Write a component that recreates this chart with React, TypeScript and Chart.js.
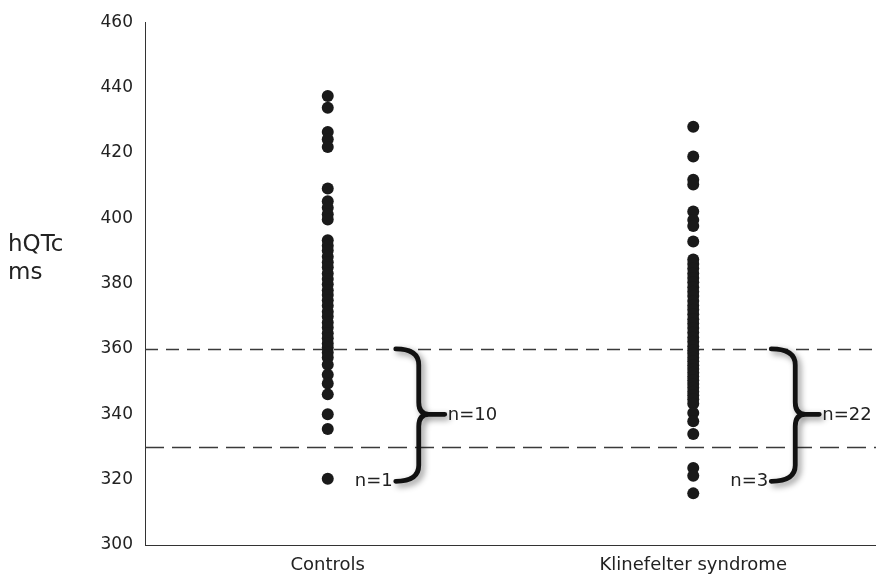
import React, { useEffect, useRef } from 'react';
import { Chart, registerables } from 'chart.js';

Chart.register(...registerables);

const CATEGORIES = ['Controls', 'Klinefelter syndrome'];

const CONTROLS_VALUES = [
  437.4, 433.8, 426.4, 424.2, 421.8, 409.1, 405.2, 403.2, 401.2, 399.6,
  393.3, 391.6, 390.1, 388.2, 386.5, 385.0, 383.1, 381.4, 379.8, 378.0,
  376.5, 374.9, 373.2, 371.4, 369.9, 368.1, 366.6, 364.8, 363.3, 361.7,
  360.4, 358.9, 357.4, 355.2, 352.1, 349.4, 346.1, 340.0, 335.5, 320.3,
];

const KLINEFELTER_VALUES = [
  428.0, 418.9, 411.8, 410.3, 402.1, 399.5, 397.6, 392.9, 387.4, 386.0,
  384.6, 383.1, 381.7, 380.4, 378.9, 377.5, 376.2, 374.7, 373.3, 372.0,
  370.6, 369.1, 367.8, 366.4, 365.0, 363.5, 362.2, 360.8, 359.6, 358.5,
  357.3, 356.2, 355.0, 353.9, 352.7, 351.6, 350.4, 349.3, 348.1, 346.9,
  345.8, 344.6, 343.2, 340.4, 337.9, 334.0, 323.6, 321.2, 315.8,
];

const Y_MIN = 300;
const Y_MAX = 460;
const Y_STEP = 20;

const THRESHOLDS = [360, 330];

// brace values per category: [top, middle, bottom]
const BRACE_TOP = [360, 360];
const BRACE_MID = [340, 340];
const BRACE_BOTTOM = [319.5, 319.5];
const BRACE_UPPER_LABELS = ['n=10', 'n=22'];
const BRACE_LOWER_LABELS = ['n=1', 'n=3'];

const Y_TITLE_LINES = ['hQTc', 'ms'];

const FONT = '"DejaVu Sans", "Liberation Sans", Arial, sans-serif';

// style / layout (pixel offsets relative to category centre)
const BRACE_LAYOUT = [
  { tip: 68, spine: 91, cusp: 117 },
  { tip: 78, spine: 102, cusp: 126 },
];
const DASH_PATTERNS = [[13, 8], [19, 8]];

const annotationPlugin = {
  id: 'qtcAnnotations',
  beforeDatasetsDraw(chart: any) {
    const { ctx, chartArea, scales } = chart;
    const y = scales.y;
    ctx.save();
    ctx.strokeStyle = '#3a3a3a';
    ctx.lineWidth = 1.5;
    THRESHOLDS.forEach((t, i) => {
      const py = Math.round(y.getPixelForValue(t)) + 0.5;
      ctx.setLineDash(DASH_PATTERNS[i] || [12, 8]);
      ctx.beginPath();
      ctx.moveTo(chartArea.left, py);
      ctx.lineTo(chartArea.right, py);
      ctx.stroke();
    });
    ctx.restore();
  },
  afterDatasetsDraw(chart: any) {
    const { ctx, chartArea, scales } = chart;
    const x = scales.x;
    const y = scales.y;
    CATEGORIES.forEach((cat, i) => {
      const cx = x.getPixelForValue(i);
      const L = BRACE_LAYOUT[i];
      const xt = cx + L.tip;
      const xs = cx + L.spine;
      const xc = cx + L.cusp;
      const yTop = y.getPixelForValue(BRACE_TOP[i]);
      const yMid = y.getPixelForValue(BRACE_MID[i]);
      const yBot = y.getPixelForValue(BRACE_BOTTOM[i]);
      ctx.save();
      ctx.strokeStyle = '#111';
      ctx.lineWidth = 4.8;
      ctx.lineCap = 'round';
      ctx.lineJoin = 'round';
      ctx.shadowColor = 'rgba(0,0,0,0.45)';
      ctx.shadowBlur = 6;
      ctx.shadowOffsetX = 3;
      ctx.shadowOffsetY = 3;
      ctx.beginPath();
      ctx.moveTo(xt, yTop);
      ctx.quadraticCurveTo(xs, yTop, xs, yTop + 16);
      ctx.lineTo(xs, yMid - 12);
      ctx.quadraticCurveTo(xs, yMid, xs + 10, yMid);
      ctx.lineTo(xc, yMid);
      ctx.moveTo(xs + 10, yMid);
      ctx.quadraticCurveTo(xs, yMid, xs, yMid + 12);
      ctx.lineTo(xs, yBot - 16);
      ctx.quadraticCurveTo(xs, yBot, xt, yBot);
      ctx.stroke();
      ctx.restore();

      ctx.save();
      ctx.fillStyle = '#222';
      ctx.font = `18px ${FONT}`;
      ctx.textBaseline = 'middle';
      ctx.textAlign = 'left';
      ctx.fillText(BRACE_UPPER_LABELS[i], xc + 3, yMid + 1);
      ctx.textAlign = 'right';
      ctx.fillText(BRACE_LOWER_LABELS[i], xt - 3, yBot);
      ctx.restore();
    });

    ctx.save();
    ctx.fillStyle = '#222';
    ctx.font = `23px ${FONT}`;
    ctx.textAlign = 'left';
    ctx.textBaseline = 'middle';
    ctx.fillText(Y_TITLE_LINES[0], 8, chartArea.top + 223);
    ctx.fillText(Y_TITLE_LINES[1], 8, chartArea.top + 251);
    ctx.restore();
  },
};

export default function App() {
  const canvasRef = useRef<HTMLCanvasElement | null>(null);

  useEffect(() => {
    document.body.style.margin = '0';
    document.body.style.overflow = 'hidden';
    const canvas = canvasRef.current;
    if (!canvas) return;
    const chart = new Chart(canvas, {
      type: 'scatter',
      data: {
        labels: CATEGORIES,
        datasets: [
          {
            label: CATEGORIES[0],
            data: CONTROLS_VALUES.map((v) => ({ x: CATEGORIES[0], y: v })) as any,
            backgroundColor: '#1a1a1a',
            borderColor: '#1a1a1a',
            pointRadius: 6,
            borderWidth: 0,
          },
          {
            label: CATEGORIES[1],
            data: KLINEFELTER_VALUES.map((v) => ({ x: CATEGORIES[1], y: v })) as any,
            backgroundColor: '#1a1a1a',
            borderColor: '#1a1a1a',
            pointRadius: 6,
            borderWidth: 0,
          },
        ],
      },
      options: {
        responsive: false,
        animation: false,
        devicePixelRatio: 1,
        layout: { autoPadding: false, padding: { top: 19, right: 0, bottom: 0, left: 0 } },
        plugins: {
          legend: { display: false },
          tooltip: { enabled: false },
        },
        scales: {
          x: {
            type: 'category',
            labels: CATEGORIES,
            offset: true,
            grid: { display: true, color: 'rgba(0,0,0,0)', drawTicks: false },
            border: { display: true, color: '#333', width: 1 },
            ticks: {
              color: '#222',
              font: { family: FONT, size: 18 },
              padding: 10,
            },
            afterFit: (scale: any) => {
              scale.height = 32;
            },
          },
          y: {
            type: 'linear',
            min: Y_MIN,
            max: Y_MAX,
            grid: { display: true, color: 'rgba(0,0,0,0)', drawTicks: false },
            border: { display: true, color: '#333', width: 1 },
            ticks: {
              stepSize: Y_STEP,
              color: '#222',
              font: { family: FONT, size: 17 },
              padding: 12,
            },
            afterFit: (scale: any) => {
              scale.width = 145;
            },
          },
        },
      } as any,
      plugins: [annotationPlugin],
    });
    return () => chart.destroy();
  }, []);

  return (
    <div style={{ width: 876, height: 577, overflow: 'hidden' }}>
      <canvas
        ref={canvasRef}
        width={876}
        height={577}
        style={{ display: 'block', width: 876, height: 577 }}
      />
    </div>
  );
}
